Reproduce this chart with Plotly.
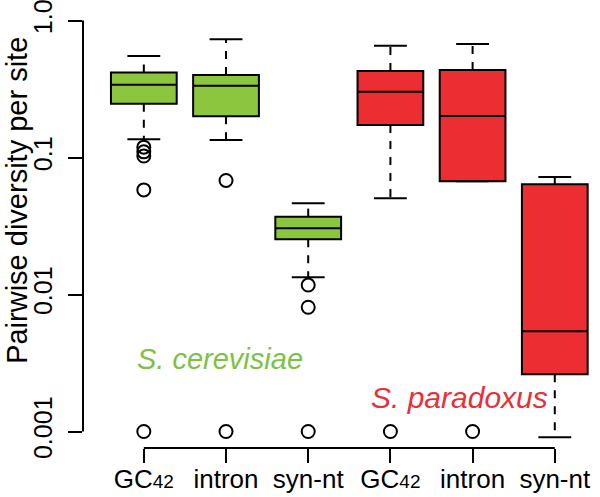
import plotly.graph_objects as go

# ---- data ----
positions = [1, 2, 3, 4, 5, 6]
tick_labels = ["GC<span style='font-size:19px'>42</span>", "intron", "syn-nt",
               "GC<span style='font-size:19px'>42</span>", "intron", "syn-nt"]
species = ["S. cerevisiae"] * 3 + ["S. paradoxus"] * 3
q1 = [0.247, 0.200, 0.0253, 0.173, 0.067, 0.00262]
median = [0.340, 0.334, 0.0304, 0.302, 0.201, 0.00539]
q3 = [0.418, 0.400, 0.037, 0.428, 0.435, 0.0637]
whisker_low = [0.136, 0.134, 0.01336, 0.0504, 0.067, 0.000907]
whisker_high = [0.55, 0.73, 0.0463, 0.655, 0.674, 0.072]
outliers = [
    [0.119, 0.110, 0.1025, 0.058, 0.001],
    [0.068, 0.001],
    [0.01172, 0.00807, 0.001],
    [0.001],
    [0.001],
    [],
]
y_ticks = [0.001, 0.01, 0.1, 1.0]
y_tick_text = ["0.001", "0.01", "0.1", "1.0"]

GREEN = "#8cc63f"
RED = "#ec2d31"
colors = [GREEN] * 3 + [RED] * 3
FONT = "Liberation Sans, Arial, Helvetica, sans-serif"

fig = go.Figure()

# whiskers (dashed) and staples (solid)
for i, p in enumerate(positions):
    fig.add_trace(go.Scatter(
        x=[p, p, None, p, p],
        y=[q3[i], whisker_high[i], None, q1[i], whisker_low[i]],
        mode="lines", line=dict(color="black", width=2, dash="8px,8px"),
        showlegend=False, hoverinfo="skip"))
    fig.add_trace(go.Scatter(
        x=[p - 0.2, p + 0.2, None, p - 0.2, p + 0.2],
        y=[whisker_high[i], whisker_high[i], None, whisker_low[i], whisker_low[i]],
        mode="lines", line=dict(color="black", width=2),
        showlegend=False, hoverinfo="skip"))
    if outliers[i]:
        fig.add_trace(go.Scatter(
            x=[p] * len(outliers[i]), y=outliers[i], mode="markers",
            marker=dict(symbol="circle-open", size=13, color="black",
                        line=dict(width=2, color="black")),
            showlegend=False, cliponaxis=False))

# boxes
for i, p in enumerate(positions):
    fig.add_trace(go.Box(
        x=[p], q1=[q1[i]], median=[median[i]], q3=[q3[i]],
        lowerfence=[q1[i]], upperfence=[q3[i]],
        width=0.8, whiskerwidth=0, fillcolor=colors[i],
        line=dict(color="black", width=2), boxpoints=False,
        name=species[i], showlegend=False))

# axis spines (R style: from first to last tick)
fig.add_shape(type="line", xref="paper", yref="y", x0=0, x1=0,
              y0=y_ticks[0], y1=y_ticks[-1], line=dict(color="black", width=2))
fig.add_shape(type="line", xref="x", yref="paper", x0=positions[0], x1=positions[-1],
              y0=0, y1=0, line=dict(color="black", width=2))

# species labels
fig.add_annotation(text="<i>S. cerevisiae</i>", xref="x", yref="y", x=0.89, y=-2.47,
                   xanchor="left", yanchor="middle", showarrow=False,
                   font=dict(family=FONT, size=29, color="#7dc242"))
fig.add_annotation(text="<i>S. paradoxus</i>", xref="x", yref="y", x=3.74, y=-2.75,
                   xanchor="left", yanchor="middle", showarrow=False,
                   font=dict(family=FONT, size=30, color="#e8303a"))
# y-axis title
fig.add_annotation(text="Pairwise diversity per site", xref="paper", yref="paper",
                   x=-0.128, y=0.556, xanchor="center", yanchor="middle",
                   textangle=-90, showarrow=False,
                   font=dict(family=FONT, size=29, color="black"))

fig.update_xaxes(range=[0.26, 6.55], tickvals=positions, ticktext=tick_labels,
                 ticks="outside", ticklen=14, tickwidth=2, tickcolor="black",
                 showline=False, showgrid=False, zeroline=False, automargin=False,
                 ticklabeloverflow="allow", ticklabelstandoff=-6,
                 tickfont=dict(family=FONT, size=26, color="black"))
fig.update_yaxes(type="log", range=[-3.1204, 0.135], tickvals=y_ticks,
                 ticktext=y_tick_text, tickangle=-90,
                 ticks="outside", ticklen=14, tickwidth=2, tickcolor="black",
                 showline=False, showgrid=False, zeroline=False, automargin=False,
                 ticklabeloverflow="allow", ticklabelstandoff=6,
                 tickfont=dict(family=FONT, size=25, color="black"))

fig.update_layout(width=600, height=497,
                  margin=dict(l=83, r=0, t=2, b=49),
                  paper_bgcolor="white", plot_bgcolor="white",
                  showlegend=False, font=dict(family=FONT))

fig.write_html("out.html", config={"displayModeBar": False},
               post_script="document.body.style.margin='0px';")
